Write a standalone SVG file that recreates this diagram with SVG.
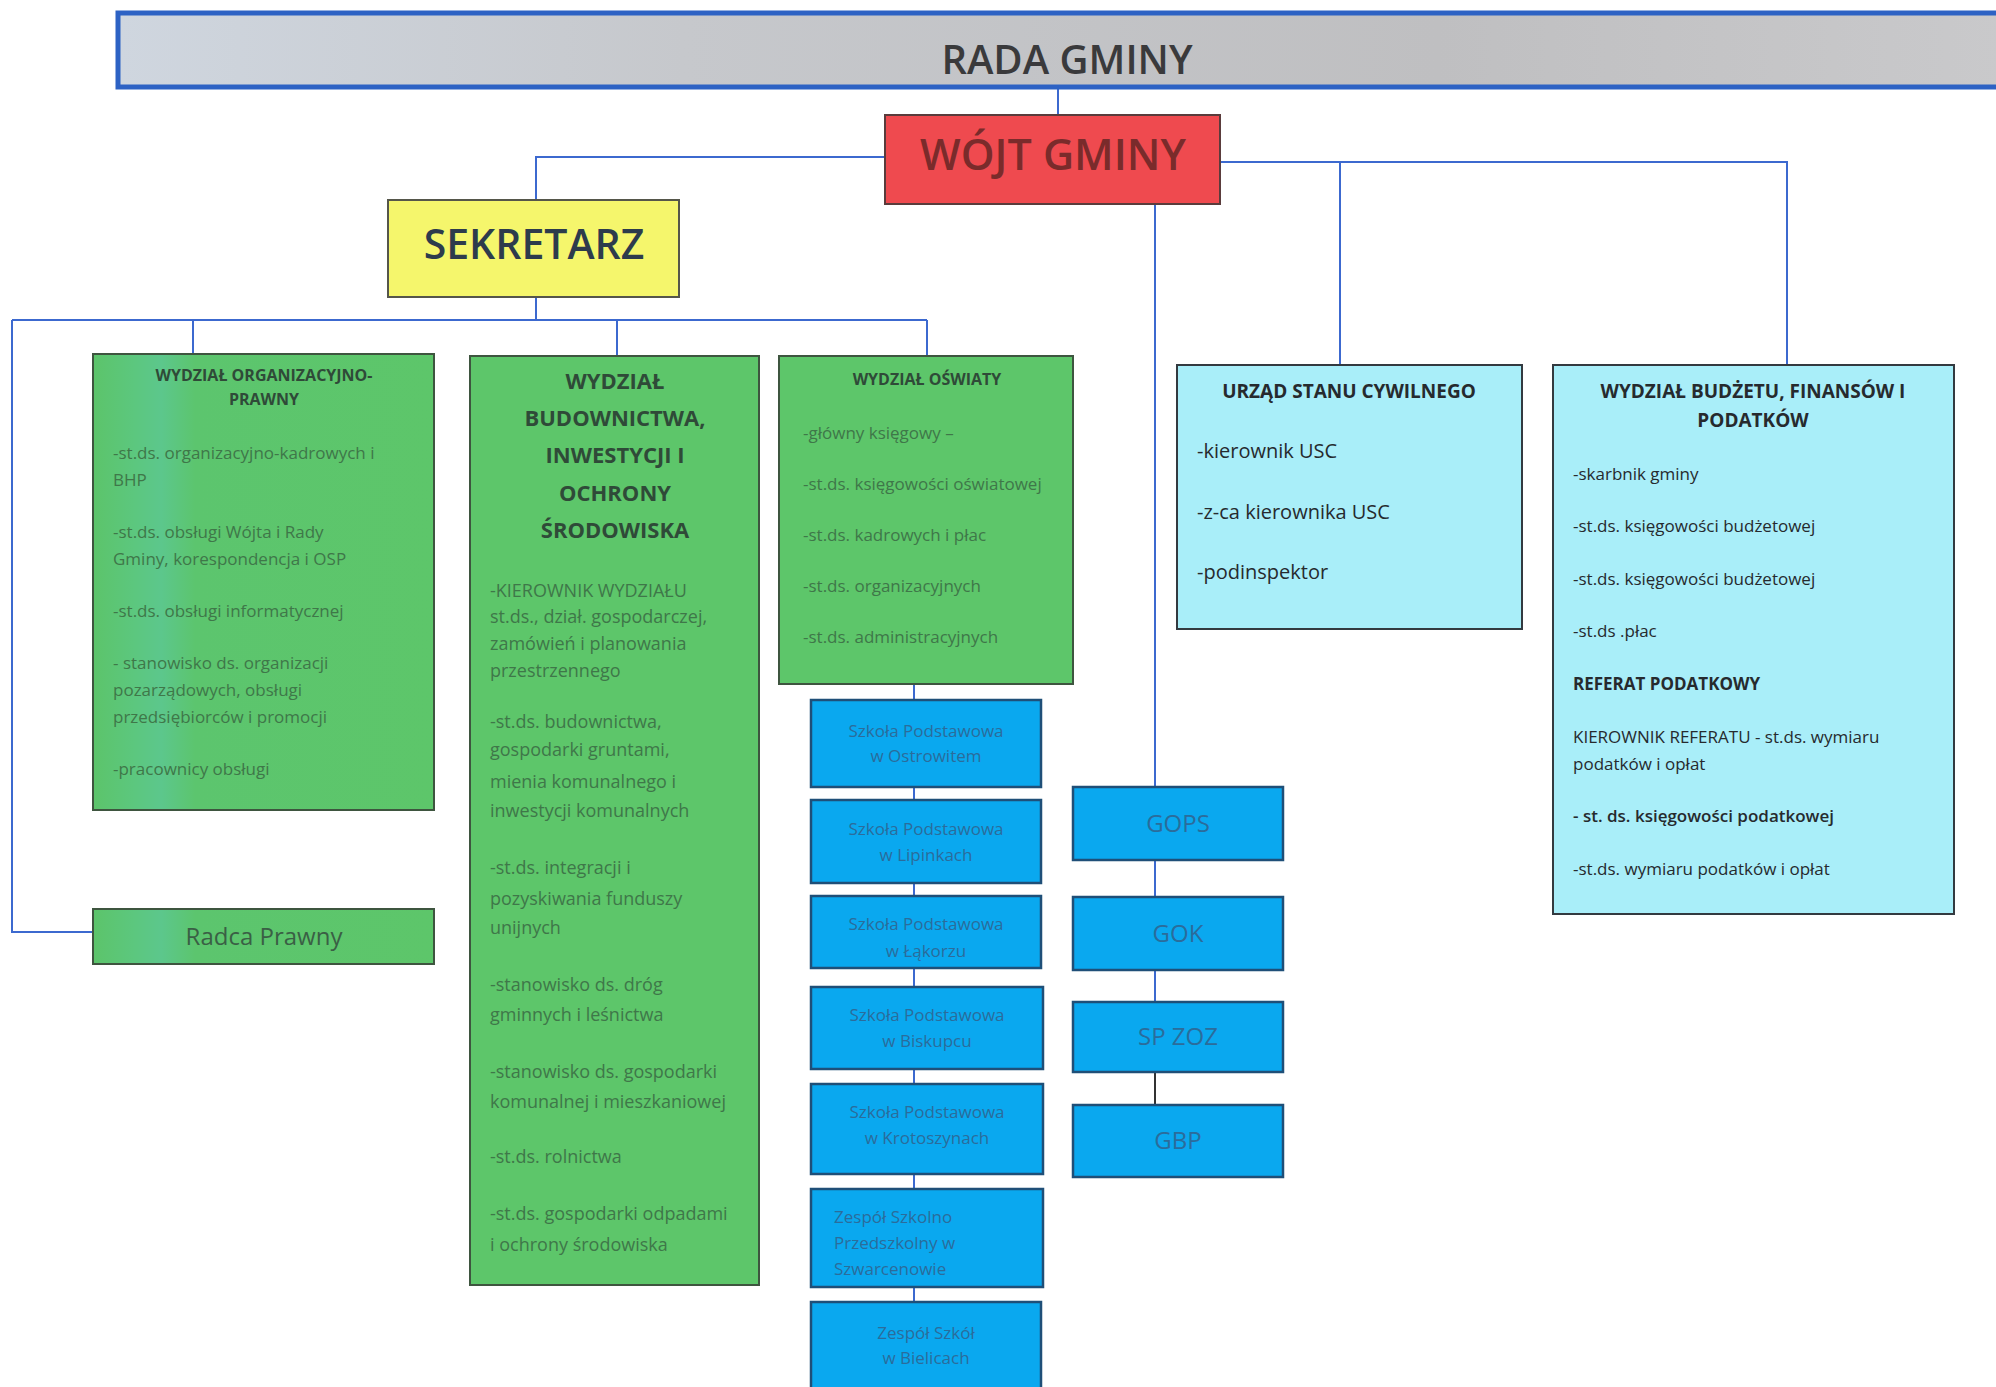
<svg xmlns="http://www.w3.org/2000/svg" width="1996" height="1387" viewBox="0 0 1996 1387">
<defs>
<linearGradient id="gBar" x1="0" y1="0" x2="1" y2="0">
<stop offset="0" stop-color="#cfd6df"/><stop offset="0.3" stop-color="#c6c8cc"/><stop offset="0.7" stop-color="#bfbfc1"/><stop offset="1" stop-color="#c9c9cb"/>
</linearGradient>
<linearGradient id="gGreen" x1="0" y1="0" x2="1" y2="0">
<stop offset="0" stop-color="#5cc46a"/><stop offset="0.12" stop-color="#5cc77e"/><stop offset="0.2" stop-color="#5cc78c"/><stop offset="0.3" stop-color="#5cc56e"/><stop offset="1" stop-color="#5dc66a"/>
</linearGradient>
<style>
text{font-family:"Open Sans","Noto Sans","DejaVu Sans",sans-serif}
.con{stroke:#3c69cf;stroke-width:2;fill:none}
.green{fill:#5dc66a;stroke:#3e553f;stroke-width:2}
.cyan{fill:#a9eef9;stroke:#333a40;stroke-width:2}
.blue{fill:#0aa8ef;stroke:#1f4f78;stroke-width:2.5}
.gt{font-weight:bold;fill:#2f4a38;text-anchor:middle}
.gi{fill:#3f7749;font-size:17px}
.bi{fill:#3f7749;font-size:18px}
.st{fill:#2b6c9b;font-size:17px;text-anchor:middle}
.sl{fill:#2b6c9b;font-size:17px;text-anchor:start}
.sq{fill:#2b6c9b;font-size:24px;text-anchor:middle}
.ci{fill:#262a2e;font-size:20px}
.bu{fill:#262a2e;font-size:17px}
</style>
</defs>
<rect width="1996" height="1387" fill="#ffffff"/>
<g id="connectors">
<line class="con" x1="1058" y1="87" x2="1058" y2="115"/>
<polyline class="con" points="885,157 536,157 536,200"/>
<line class="con" x1="536" y1="297" x2="536" y2="320"/>
<line class="con" x1="12" y1="320" x2="927" y2="320"/>
<line class="con" x1="193" y1="320" x2="193" y2="354"/>
<line class="con" x1="617" y1="320" x2="617" y2="356"/>
<line class="con" x1="927" y1="320" x2="927" y2="356"/>
<polyline class="con" points="12,320 12,932 93,932"/>
<polyline class="con" points="1220,162 1787,162 1787,365"/>
<line class="con" x1="1340" y1="162" x2="1340" y2="365"/>
<line class="con" x1="1155" y1="204" x2="1155" y2="787"/>
<line class="con" x1="1155" y1="860" x2="1155" y2="897"/>
<line class="con" x1="1155" y1="970" x2="1155" y2="1002"/>
<line class="con" x1="1155" y1="1072" x2="1155" y2="1105" style="stroke:#333"/>
<line class="con" x1="914" y1="684" x2="914" y2="1302"/>
</g>
<g id="rada">
<rect x="118" y="13" width="1885" height="74" fill="url(#gBar)" stroke="#2d62c4" stroke-width="5"/>
<text x="1067" y="74" font-size="40" font-weight="600" fill="#3a3a3c" text-anchor="middle">RADA GMINY</text>
</g>
<g id="wojt">
<rect x="885" y="115" width="335" height="89" fill="#ef4a4f" stroke="#5a3c3c" stroke-width="2"/>
<text x="1053" y="170" font-size="43" font-weight="600" fill="#7a2b2b" text-anchor="middle">WÓJT GMINY</text>
</g>
<g id="sekretarz">
<rect x="388" y="200" width="291" height="97" fill="#f5f66c" stroke="#55564a" stroke-width="2"/>
<text x="534" y="259" font-size="41" font-weight="600" fill="#2d3b4c" text-anchor="middle">SEKRETARZ</text>
</g>
<g id="wydzial-org">
<rect x="93" y="354" width="341" height="456" fill="url(#gGreen)" stroke="#3e553f" stroke-width="2"/>
<text class="gt" x="264" y="381" font-size="16">WYDZIAŁ ORGANIZACYJNO-</text>
<text class="gt" x="264" y="405" font-size="16">PRAWNY</text>
<text class="gi" x="113" y="459">-st.ds. organizacyjno-kadrowych i</text>
<text class="gi" x="113" y="486">BHP</text>
<text class="gi" x="113" y="538">-st.ds. obsługi Wójta i Rady</text>
<text class="gi" x="113" y="565">Gminy, korespondencja i OSP</text>
<text class="gi" x="113" y="617">-st.ds. obsługi informatycznej</text>
<text class="gi" x="113" y="669">- stanowisko ds. organizacji</text>
<text class="gi" x="113" y="696">pozarządowych, obsługi</text>
<text class="gi" x="113" y="723">przedsiębiorców i promocji</text>
<text class="gi" x="113" y="775">-pracownicy obsługi</text>
</g>
<g id="radca">
<rect x="93" y="909" width="341" height="55" fill="url(#gGreen)" stroke="#3e553f" stroke-width="2"/>
<text x="264" y="945" font-size="24" fill="#3a5f45" text-anchor="middle">Radca Prawny</text>
</g>
<g id="wydzial-bud">
<rect class="green" x="470" y="356" width="289" height="929"/>
<text class="gt" x="615" y="389" font-size="22">WYDZIAŁ</text>
<text class="gt" x="615" y="426" font-size="22">BUDOWNICTWA,</text>
<text class="gt" x="615" y="463" font-size="22">INWESTYCJI I</text>
<text class="gt" x="615" y="501" font-size="22">OCHRONY</text>
<text class="gt" x="615" y="538" font-size="22">ŚRODOWISKA</text>
<text class="bi" x="490" y="597">-KIEROWNIK WYDZIAŁU</text>
<text class="bi" x="490" y="623">st.ds., dział. gospodarczej,</text>
<text class="bi" x="490" y="650">zamówień  i planowania</text>
<text class="bi" x="490" y="677">przestrzennego</text>
<text class="bi" x="490" y="728">-st.ds. budownictwa,</text>
<text class="bi" x="490" y="756">gospodarki gruntami,</text>
<text class="bi" x="490" y="788">mienia komunalnego i</text>
<text class="bi" x="490" y="817">inwestycji komunalnych</text>
<text class="bi" x="490" y="874">-st.ds. integracji i</text>
<text class="bi" x="490" y="905">pozyskiwania funduszy</text>
<text class="bi" x="490" y="934">unijnych</text>
<text class="bi" x="490" y="991">-stanowisko ds. dróg</text>
<text class="bi" x="490" y="1021">gminnych i leśnictwa</text>
<text class="bi" x="490" y="1078">-stanowisko ds. gospodarki</text>
<text class="bi" x="490" y="1108">komunalnej i mieszkaniowej</text>
<text class="bi" x="490" y="1163">-st.ds. rolnictwa</text>
<text class="bi" x="490" y="1220">-st.ds. gospodarki odpadami</text>
<text class="bi" x="490" y="1251">i ochrony środowiska</text>
</g>
<g id="wydzial-oswiaty">
<rect class="green" x="779" y="356" width="294" height="328"/>
<text class="gt" x="927" y="385" font-size="16">WYDZIAŁ OŚWIATY</text>
<text class="gi" x="803" y="439">-główny księgowy –</text>
<text class="gi" x="803" y="490">-st.ds. księgowości oświatowej</text>
<text class="gi" x="803" y="541">-st.ds. kadrowych i płac</text>
<text class="gi" x="803" y="592">-st.ds. organizacyjnych</text>
<text class="gi" x="803" y="643">-st.ds. administracyjnych</text>
</g>
<g id="sp-ostrowite">
<rect class="blue" x="811" y="700" width="230" height="87"/>
<text class="st" x="926" y="737">Szkoła Podstawowa</text>
<text class="st" x="926" y="762">w Ostrowitem</text>
</g>
<g id="sp-lipinki">
<rect class="blue" x="811" y="800" width="230" height="83"/>
<text class="st" x="926" y="835">Szkoła Podstawowa</text>
<text class="st" x="926" y="861">w Lipinkach</text>
</g>
<g id="sp-lakorz">
<rect class="blue" x="811" y="896" width="230" height="72"/>
<text class="st" x="926" y="930">Szkoła Podstawowa</text>
<text class="st" x="926" y="957">w Łąkorzu</text>
</g>
<g id="sp-biskupiec">
<rect class="blue" x="811" y="987" width="232" height="82"/>
<text class="st" x="927" y="1021">Szkoła Podstawowa</text>
<text class="st" x="927" y="1047">w Biskupcu</text>
</g>
<g id="sp-krotoszyny">
<rect class="blue" x="811" y="1084" width="232" height="90"/>
<text class="st" x="927" y="1118">Szkoła Podstawowa</text>
<text class="st" x="927" y="1144">w Krotoszynach</text>
</g>
<g id="zsp-szwarcenowo">
<rect class="blue" x="811" y="1189" width="232" height="98"/>
<text class="sl" x="834" y="1223">Zespół Szkolno</text>
<text class="sl" x="834" y="1249">Przedszkolny w</text>
<text class="sl" x="834" y="1275">Szwarcenowie</text>
</g>
<g id="zs-bielice">
<rect class="blue" x="811" y="1302" width="230" height="90"/>
<text class="st" x="926" y="1339">Zespół Szkół</text>
<text class="st" x="926" y="1364">w Bielicach</text>
</g>
<g id="gops">
<rect class="blue" x="1073" y="787" width="210" height="73"/>
<text class="sq" x="1178" y="832">GOPS</text>
</g>
<g id="gok">
<rect class="blue" x="1073" y="897" width="210" height="73"/>
<text class="sq" x="1178" y="942">GOK</text>
</g>
<g id="spzoz">
<rect class="blue" x="1073" y="1002" width="210" height="70"/>
<text class="sq" x="1178" y="1045">SP ZOZ</text>
</g>
<g id="gbp">
<rect class="blue" x="1073" y="1105" width="210" height="72"/>
<text class="sq" x="1178" y="1149">GBP</text>
</g>
<g id="usc">
<rect class="cyan" x="1177" y="365" width="345" height="264"/>
<text x="1349" y="398" font-size="19" font-weight="bold" fill="#262a2e" text-anchor="middle">URZĄD STANU CYWILNEGO</text>
<text class="ci" x="1197" y="458">-kierownik USC</text>
<text class="ci" x="1197" y="519">-z-ca kierownika USC</text>
<text class="ci" x="1197" y="579">-podinspektor</text>
</g>
<g id="budzet">
<rect class="cyan" x="1553" y="365" width="401" height="549"/>
<text x="1753" y="398" font-size="19" font-weight="bold" fill="#262a2e" text-anchor="middle">WYDZIAŁ BUDŻETU, FINANSÓW I</text>
<text x="1753" y="427" font-size="19" font-weight="bold" fill="#262a2e" text-anchor="middle">PODATKÓW</text>
<text class="bu" x="1573" y="480">-skarbnik gminy</text>
<text class="bu" x="1573" y="532">-st.ds. księgowości budżetowej</text>
<text class="bu" x="1573" y="585">-st.ds. księgowości budżetowej</text>
<text class="bu" x="1573" y="637">-st.ds .płac</text>
<text class="bu" x="1573" y="690" font-weight="bold">REFERAT PODATKOWY</text>
<text class="bu" x="1573" y="743">KIEROWNIK REFERATU - st.ds. wymiaru</text>
<text class="bu" x="1573" y="770">podatków i opłat</text>
<text class="bu" x="1573" y="822" font-weight="600">- st. ds. księgowości podatkowej</text>
<text class="bu" x="1573" y="875">-st.ds. wymiaru podatków i opłat</text>
</g>
</svg>
